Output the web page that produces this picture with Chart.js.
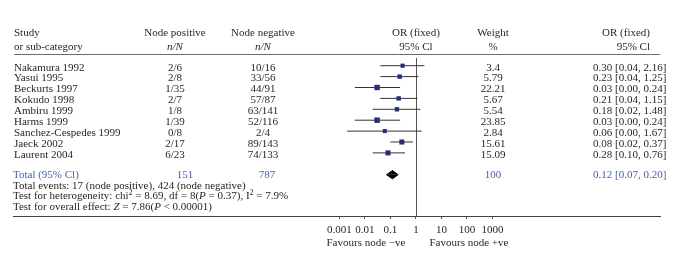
<!DOCTYPE html>
<html>
<head>
<meta charset="utf-8">
<script src="https://cdn.jsdelivr.net/npm/chart.js@4.4.0/dist/chart.umd.min.js"></script>
<style>
  html, body { margin: 0; padding: 0; background: #fff; }
</style>
</head>
<body>
<canvas id="forestChart" width="684" height="253"></canvas>
<script>
// Study table, as printed
const studies = ['Nakamura 1992', 'Yasui 1995', 'Beckurts 1997', 'Kokudo 1998', 'Ambiru 1999',
                 'Harms 1999', 'Sanchez-Cespedes 1999', 'Jaeck 2002', 'Laurent 2004'];
const nodePos = ['2/6', '2/8', '1/35', '2/7', '1/8', '1/39', '0/8', '2/17', '6/23'];
const nodeNeg = ['10/16', '33/56', '44/91', '57/87', '63/141', '52/116', '2/4', '89/143', '74/133'];
const weights = [3.4, 5.79, 22.21, 5.67, 5.54, 23.85, 2.84, 15.61, 15.09];
const orVals  = [0.30, 0.23, 0.03, 0.21, 0.18, 0.03, 0.06, 0.08, 0.28];
const ciLow   = [0.04, 0.04, 0.004, 0.04, 0.02, 0.004, 0.002, 0.02, 0.10];
const ciHigh  = [2.16, 1.25, 0.24, 1.15, 1.48, 0.24, 1.67, 0.37, 0.76];
// row each study's mark is drawn on (the last two are swapped in the figure)
const plotRow = [0, 1, 2, 3, 4, 5, 6, 8, 7];

// Pooled result
const totalRow = 10;
const totalN = [151, 787];
const totalWeight = 100;
const totalCI = [0.07, 0.12, 0.20]; // low, estimate, high

// Axis ticks
const tickVals = [0.001, 0.01, 0.1, 1, 10, 100, 1000];
const tickLabels = ['0.001', '0.01', '0.1', '1', '10', '100', '1000'];

const textColor = '#231f20';
const blue = '#4562a8';
const navy = '#26307a';
const serif = '"Liberation Serif", "DejaVu Serif", serif';
const fontPx = 11;

function setFont(ctx, style, size) {
    ctx.font = (style || '') + ' ' + (size || fontPx) + 'px ' + serif;
}

// draw a line of text made of runs: {t, it, sup}
function drawRuns(ctx, runs, x, y) {
    ctx.textAlign = 'left';
    runs.forEach(r => {
        if (r.sup) {
            setFont(ctx, '', 8);
            ctx.fillText(r.t, x, y - 4);
        } else {
            setFont(ctx, r.it ? 'italic' : '', fontPx);
            ctx.fillText(r.t, x, y);
        }
        x += ctx.measureText(r.t).width;
    });
}

function text(ctx, s, x, y, align, color, style) {
    setFont(ctx, style, fontPx);
    ctx.fillStyle = color || textColor;
    ctx.textAlign = align || 'left';
    ctx.fillText(s, x, y);
}

const fmt = v => v.toFixed(2);

const tablePlugin = {
    id: 'forestTable',
    afterDraw(chart) {
        const ctx = chart.ctx;
        const xs = chart.scales.x, ys = chart.scales.y;
        const area = chart.chartArea;
        const x1 = xs.getPixelForValue(1);
        ctx.save();
        ctx.textBaseline = 'middle';

        // header
        text(ctx, 'Study', 14, 33);
        text(ctx, 'or sub-category', 14, 47);
        text(ctx, 'Node positive', 175, 33, 'center');
        text(ctx, 'n/N', 175, 47, 'center', textColor, 'italic');
        text(ctx, 'Node negative', 263, 33, 'center');
        text(ctx, 'n/N', 263, 47, 'center', textColor, 'italic');
        text(ctx, 'OR (fixed)', x1, 33, 'center');
        text(ctx, '95% Cl', x1, 47, 'center');
        text(ctx, 'Weight', 493, 33, 'center');
        text(ctx, '%', 493, 47, 'center');
        text(ctx, 'OR (fixed)', 650, 33, 'right');
        text(ctx, '95% Cl', 650, 47, 'right');

        ctx.strokeStyle = '#6d6d6d';
        ctx.lineWidth = 1;
        ctx.beginPath();
        ctx.moveTo(14, area.top - 0.5);
        ctx.lineTo(area.right, area.top - 0.5);
        ctx.stroke();

        // study rows
        studies.forEach((s, i) => {
            const y = ys.getPixelForValue(i) + 2;
            text(ctx, s, 14, y);
            text(ctx, nodePos[i], 175, y, 'center');
            text(ctx, nodeNeg[i], 263, y, 'center');
            text(ctx, String(weights[i]), 493, y, 'center');
            text(ctx, fmt(orVals[i]) + ' [' + fmt(ciLow[i]) + ', ' + fmt(ciHigh[i]) + ']', 593, y);
        });

        // total row
        const yt = ys.getPixelForValue(totalRow);
        text(ctx, 'Total (95% Cl)', 13, yt, 'left', blue);
        text(ctx, String(totalN[0]), 185, yt, 'center', blue);
        text(ctx, String(totalN[1]), 267, yt, 'center', blue);
        text(ctx, String(totalWeight), 493, yt, 'center', blue);
        text(ctx, fmt(totalCI[1]) + ' [' + fmt(totalCI[0]) + ', ' + fmt(totalCI[2]) + ']', 593, yt, 'left', blue);

        // footnotes
        ctx.fillStyle = textColor;
        drawRuns(ctx, [{t: 'Total events: 17 (node positive), 424 (node negative)'}], 13, 186);
        drawRuns(ctx, [
            {t: 'Test for heterogeneity: chi'}, {t: '2', sup: true},
            {t: ' = 8.69, df = 8('}, {t: 'P', it: true}, {t: ' = 0.37), I'}, {t: '2', sup: true},
            {t: ' = 7.9%'}
        ], 13, 196.5);
        drawRuns(ctx, [
            {t: 'Test for overall effect: '}, {t: 'Z', it: true}, {t: ' = 7.86('},
            {t: 'P', it: true}, {t: ' < 0.00001)'}
        ], 13, 207);

        // favours labels
        text(ctx, 'Favours node \u2212ve', x1 - 50, 243, 'center');
        text(ctx, 'Favours node +ve', x1 + 53, 243, 'center');

        ctx.restore();
    },
    beforeDatasetsDraw(chart) {
        // line of no effect
        const ctx = chart.ctx;
        const x1 = Math.round(chart.scales.x.getPixelForValue(1)) + 0.5;
        ctx.save();
        ctx.strokeStyle = '#555';
        ctx.lineWidth = 1;
        ctx.beginPath();
        ctx.moveTo(x1, chart.chartArea.top + 3);
        ctx.lineTo(x1, chart.chartArea.bottom);
        ctx.stroke();
        ctx.restore();
    }
};

const squares = {
    data: studies.map((s, i) => ({x: orVals[i], y: plotRow[i]})),
    pointStyle: 'rect',
    backgroundColor: navy,
    borderColor: navy,
    borderWidth: 0,
    pointRadius: ctx => 2.4 + Math.sqrt(weights[ctx.dataIndex]) * 0.3,
    showLine: false
};

const ciLines = studies.map((s, i) => ({
    data: [{x: ciLow[i], y: plotRow[i]}, {x: ciHigh[i], y: plotRow[i]}],
    showLine: true,
    borderColor: '#333',
    borderWidth: 1,
    pointRadius: 0
}));

const halfH = 0.38;
const diamondTop = {
    data: [{x: totalCI[0], y: totalRow}, {x: totalCI[1], y: totalRow - halfH}, {x: totalCI[2], y: totalRow}],
    showLine: true, pointRadius: 0, borderWidth: 1, borderColor: '#000',
    backgroundColor: '#000', fill: {value: totalRow}
};
const diamondBottom = {
    data: [{x: totalCI[0], y: totalRow}, {x: totalCI[1], y: totalRow + halfH}, {x: totalCI[2], y: totalRow}],
    showLine: true, pointRadius: 0, borderWidth: 1, borderColor: '#000',
    backgroundColor: '#000', fill: {value: totalRow}
};

const ctx = document.getElementById('forestChart').getContext('2d');
const forestChart = new Chart(ctx, {
    type: 'scatter',
    data: {
        datasets: [squares, diamondTop, diamondBottom].concat(ciLines)
    },
    options: {
        responsive: false,
        animation: false,
        layout: { padding: { left: 13, right: 24, top: 55, bottom: 0 } },
        plugins: {
            legend: { display: false },
            tooltip: { enabled: false }
        },
        scales: {
            x: {
                type: 'logarithmic',
                position: 'bottom',
                min: Math.pow(10, -15.8),
                max: Math.pow(10, 9.57),
                afterBuildTicks: s => { s.ticks = tickVals.map(v => ({value: v})); },
                afterFit: s => { s.height = 37; },
                ticks: {
                    callback: (v, i) => tickLabels[i],
                    autoSkip: false,
                    maxRotation: 0,
                    padding: 5,
                    color: textColor,
                    font: { family: serif, size: fontPx }
                },
                grid: { drawOnChartArea: false, drawTicks: true, tickLength: 3, color: '#555' },
                border: { display: true, color: '#444', width: 1 }
            },
            y: {
                type: 'linear',
                display: false,
                reverse: true,
                min: -0.982,
                max: 13.79
            }
        }
    },
    plugins: [tablePlugin]
});
</script>
</body>
</html>
